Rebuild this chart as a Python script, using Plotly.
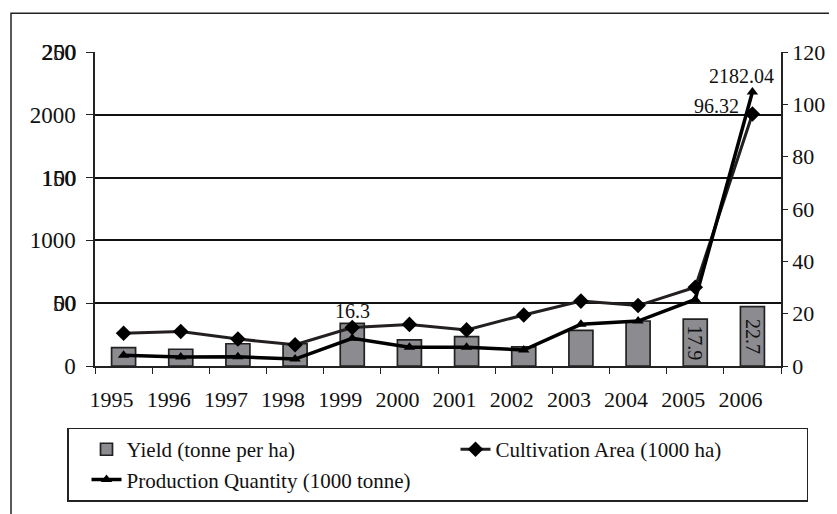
import plotly.graph_objects as go

years = ["1995", "1996", "1997", "1998", "1999", "2000", "2001", "2002", "2003", "2004", "2005", "2006"]
yield_t = [7.0, 6.4, 8.5, 8.5, 16.3, 10.0, 11.2, 7.3, 13.6, 17.2, 17.9, 22.7]
area = [12.5, 13.2, 10.3, 8.1, 14.7, 15.9, 13.8, 19.5, 24.8, 23.1, 30.1, 96.32]
production = [85, 71, 74, 55, 221, 150, 150, 127, 332, 358, 530, 2182.04]

left_ticks = [0, 500, 1000, 1500, 2000, 2500]
left_text = ["0", "50", "1000", "150", "2000", "250"]
left_text_overlay = ["", "00", "", "100", "", "200"]
right_ticks = [0, 20, 40, 60, 80, 100, 120]
right_text = ["0", "20", "40", "60", "80", "100", "120"]

bar_labels = ["", "", "", "", "16.3", "", "", "", "", "", "17.9", "22.7"]
bar_label_inside = [False] * 10 + [True, True]

FONT = "Liberation Serif"

fig = go.Figure()
fig.add_trace(go.Bar(
    x=years, y=yield_t, name="Yield (tonne per ha)", yaxis="y",
    width=0.42, marker=dict(color="#8c8c90", line=dict(color="#222222", width=1.7)),
))
fig.add_trace(go.Scatter(
    x=years, y=area, name="Cultivation Area (1000 ha)", yaxis="y", mode="lines+markers",
    line=dict(color="#231f20", width=3), marker=dict(symbol="diamond", size=12, color="#000000"),
))
fig.add_trace(go.Scatter(
    x=years, y=production, name="Production Quantity (1000 tonne)", yaxis="y2", mode="lines+markers",
    line=dict(color="#000000", width=3.5), marker=dict(symbol="triangle-up", size=10, color="#000000"),
))
fig.add_trace(go.Scatter(x=years, y=[None] * len(years), yaxis="y3", mode="lines",
                         showlegend=False, hoverinfo="skip"))

annotations = []
for i, lab in enumerate(bar_labels):
    if not lab:
        continue
    if bar_label_inside[i]:
        annotations.append(dict(x=i, y=yield_t[i] / 2, xref="x", yref="y", text=lab,
                                showarrow=False, textangle=90, font=dict(family=FONT, size=20, color="#111")))
    else:
        annotations.append(dict(x=i, y=yield_t[i], xref="x", yref="y", text=lab,
                                showarrow=False, yanchor="bottom", yshift=-1,
                                font=dict(family=FONT, size=20, color="#111")))
n = len(years) - 1
annotations.append(dict(x=n, y=production[-1], xref="x", yref="y2", text=f"{production[-1]:.2f}",
                        showarrow=False, xanchor="center", yanchor="middle", xshift=-11, yshift=16,
                        font=dict(family=FONT, size=20, color="#111")))
annotations.append(dict(x=n, y=area[-1], xref="x", yref="y", text=f"{area[-1]:.2f}",
                        showarrow=False, xanchor="right", yanchor="middle", xshift=-11, yshift=8,
                        font=dict(family=FONT, size=20, color="#111")))

# page has an 8px body margin; figure coordinates are page coordinates minus OFF
OFF = 8
W, H = 837 - OFF, 514 - OFF
L, T = 95 - OFF, 52 - OFF
R = W - (781 - OFF)
B = H - (368 - OFF)
pw, ph = W - L - R, H - T - B

def px_x(p):
    return (p - OFF - L) / pw

def px_y(p):
    return (H - B - (p - OFF)) / ph

fig.update_layout(
    width=W, height=H,
    margin=dict(l=L, r=R, t=T, b=B, pad=0),
    paper_bgcolor="white", plot_bgcolor="white",
    font=dict(family=FONT, size=22, color="#111"),
    showlegend=True,
    legend=dict(
        orientation="h", x=px_x(67), y=px_y(430), xanchor="left", yanchor="top",
        bordercolor="#222", borderwidth=1.5, bgcolor="white",
        font=dict(family=FONT, size=21, color="#111"),
        entrywidth=306, entrywidthmode="pixels", indentation=18,
        traceorder="normal", tracegroupgap=0,
    ),
    xaxis=dict(
        type="category", categoryorder="array", categoryarray=years,
        range=[-0.5, len(years) - 0.5], autorange=False,
        tickson="boundaries", ticks="outside", ticklen=6, tickcolor="#222", tickwidth=1.2,
        showline=True, linecolor="#222", linewidth=1.5, mirror=False,
        showgrid=False, ticklabelshift=-12, ticklabelstandoff=13, tickangle=0,
        tickfont=dict(family=FONT, size=22, color="#111"),
    ),
    yaxis=dict(
        side="right", range=[0, 120], tickvals=right_ticks, ticktext=right_text,
        ticks="outside", ticklen=5, tickcolor="#222", tickwidth=1.2,
        showline=True, linecolor="#222", linewidth=1.5, showgrid=False, zeroline=False,
        tickfont=dict(family=FONT, size=22, color="#111"), ticklabelstandoff=0,
    ),
    yaxis2=dict(
        side="left", overlaying="y", range=[0, 2500], tickvals=left_ticks, ticktext=left_text,
        ticks="outside", ticklen=7, tickcolor="#222", tickwidth=1.2,
        showline=True, linecolor="#222", linewidth=1.5,
        showgrid=True, gridcolor="#111", gridwidth=1.5, zeroline=False,
        tickfont=dict(family=FONT, size=23, color="#111"), ticklabelstandoff=6,
    ),
    yaxis3=dict(
        side="left", overlaying="y", range=[0, 2500], tickvals=left_ticks, ticktext=left_text_overlay,
        ticks="outside", ticklen=7, tickcolor="rgba(0,0,0,0)",
        showline=False, showgrid=False, zeroline=False,
        tickfont=dict(family=FONT, size=23, color="#111"), ticklabelstandoff=6,
    ),
    annotations=annotations,
    shapes=[
        dict(type="rect", xref="paper", yref="paper",
             x0=px_x(11), x1=px_x(850), y0=px_y(530), y1=px_y(13),
             line=dict(color="#222", width=1.5), fillcolor="rgba(0,0,0,0)", layer="below"),
    ],
)

fig.write_html("out.html")
